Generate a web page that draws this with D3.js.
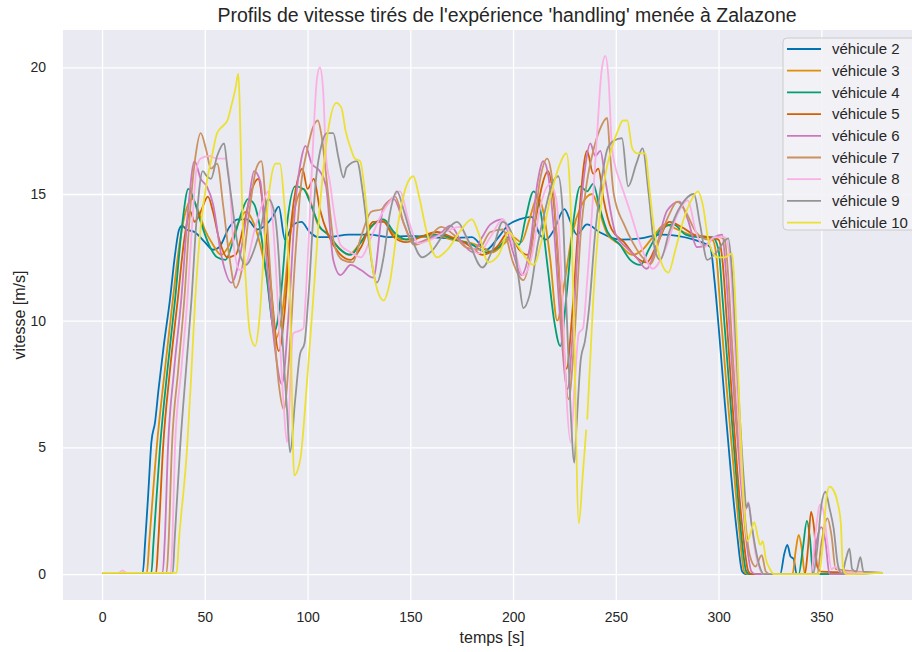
<!doctype html>
<html lang="fr">
<head>
    <meta charset="utf-8">
    <title>Profils de vitesse</title>
    <script src="https://d3js.org/d3.v7.min.js"></script>
    <style>
        body { margin: 0; background: #fff; }
        svg text { font-family: "Liberation Sans", Arial, sans-serif; fill: #262626; }
    </style>
</head>
<body>
<div id="chart"></div>
<script>
    // Tick values
    var xTicks = [0, 50, 100, 150, 200, 250, 300, 350];
    var yTicks = [0, 5, 10, 15, 20];

    // Series names
    var names = ["véhicule 2", "véhicule 3", "véhicule 4", "véhicule 5", "véhicule 6",
                 "véhicule 7", "véhicule 8", "véhicule 9", "véhicule 10"];

    // [temps, vitesse]
    var v2 = [[0,0.05],[19.8,0.05],[21,1.3],[22.5,3.2],[24,5.2],[25.8,6.0],[27.5,7.3],[30,9.0],[33,10.8],[35.5,12.6],[37.5,13.6],[39,13.75],[41,13.6],[45,13.5],[50,13.1],[54,12.8],[57,12.9],[62,13.7],[66,14.0],[70.6,14.0],[75.5,13.6],[80,13.8],[83,14.1],[86,14.5],[89,13.2],[93,13.8],[97,13.9],[101,13.5],[105,13.3],[110,13.3],[120,13.4],[130,13.4],[140,13.3],[150,13.35],[160,13.3],[170,13.25],[180,13.3],[187,12.8],[192,13.2],[198,13.8],[203,14.0],[209,14.1],[213,13.4],[216,13.2],[220,13.6],[225,14.4],[228,13.9],[231,13.4],[236,13.8],[242,13.5],[252,13.2],[262,13.25],[272,13.4],[280,13.35],[288,13.2],[293,13.05],[296,12.9],[298,11.6],[300,9.8],[303,6.8],[306,4.0],[309,1.6],[311.5,0.1],[313,0],[330,0],[332,0.8],[333.5,1.15],[335,0.7],[336.5,0.6],[338,0],[380,0.05]];
    var v3 = [[0,0.05],[21.8,0.05],[23,1.3],[26.6,5.0],[30.5,8.0],[34.4,10.8],[38,13.2],[41,14.4],[44,14.8],[47,14.3],[50,13.6],[54,13.0],[58,12.6],[62,13.0],[66,13.8],[70,14.3],[73,14.0],[76,13.3],[80,11.8],[84.5,9.3],[88,10.5],[91,13.0],[94,14.5],[98,15.2],[101,14.8],[105,13.8],[110,13.4],[115,12.9],[120,12.6],[125,13.0],[131,13.7],[136,14.0],[141,13.5],[146,13.2],[155,13.3],[162,13.4],[170,13.2],[178,13.1],[185,12.9],[190,12.7],[195,13.0],[200,13.3],[204,13.1],[208,14.0],[212,14.9],[215,14.2],[218,12.5],[221.5,10.0],[225,11.5],[229,13.5],[233,14.5],[238.5,15.0],[242,14.3],[246,13.4],[252,13.0],[258,12.6],[263,12.8],[268,13.3],[274,13.8],[280,13.6],[286,13.4],[292,13.3],[297,13.2],[299,12.5],[301,10.3],[304,7.3],[307,4.5],[310,1.8],[312.5,0.1],[314,0],[336,0],[337.5,0.9],[339,1.55],[340.5,1.0],[342,0],[380,0.05]];
    var v4 = [[0,0.05],[24,0.05],[25,1.2],[28.2,5.0],[32,8.2],[35.5,10.8],[39,13.8],[42,15.2],[45,14.7],[48,13.9],[52,13.0],[56,12.5],[60,12.4],[64,13.2],[68,14.3],[71,14.8],[74,14.6],[77,13.6],[80,11.8],[84,9.6],[87,11.0],[90,13.8],[94,15.3],[98,15.2],[102,14.5],[106,13.7],[110,13.4],[116,12.8],[121,12.6],[126,13.1],[132,13.8],[137,14.0],[142,13.5],[148,13.2],[156,13.35],[164,13.4],[172,13.2],[180,13.0],[187,12.7],[193,12.9],[198,13.3],[203,13.0],[206,14.0],[210,15.1],[213,14.5],[217,12.0],[220,10.0],[223,9.0],[226,11.0],[229.5,14.0],[232.7,15.3],[236,15.1],[239,15.4],[242,14.5],[246,13.5],[252,13.0],[257,12.4],[262,12.2],[266,12.8],[272,13.6],[278,13.8],[284,13.4],[290,13.3],[297,13.3],[300,12.8],[302,10.8],[305,7.6],[308,4.5],[311,1.6],[313.5,0.1],[315,0],[339,0],[341,1.0],[343,2.1],[344.5,1.4],[346,0],[380,0.05]];
    var v5 = [[0,0.05],[26.3,0.05],[27.3,1.2],[29.7,5.0],[33,8.0],[36.8,10.8],[40,13.2],[43,14.3],[45,13.9],[48,14.3],[51.5,14.9],[54,14.3],[57,13.2],[61,12.5],[65,12.6],[69,13.8],[73,15.2],[76,15.6],[79,14.0],[82,11.5],[86,8.8],[89,10.5],[92,13.8],[95,15.5],[97.5,16.0],[100,15.2],[103,15.6],[106,14.4],[110,13.4],[115,12.7],[121,12.4],[126,12.9],[132,13.9],[137,13.9],[142,13.3],[148,13.1],[155,13.3],[163,13.5],[170,13.3],[178,13.0],[185,12.6],[192,12.9],[198,13.5],[203,12.8],[207,12.6],[211,14.0],[214,15.3],[217,15.9],[220,14.5],[223,11.0],[226,8.1],[229,10.5],[232,14.0],[236,16.7],[239,15.8],[241.5,16.0],[244,14.8],[248,13.6],[254,13.1],[260,12.5],[265,12.3],[270,13.0],[276,13.9],[282,13.7],[288,13.4],[295,13.3],[300,13.2],[302,12.3],[304,10.0],[306.5,7.0],[309,4.2],[312,1.5],[314.5,0.1],[316,0],[342,0],[343.5,1.0],[345,2.45],[346.5,1.8],[348,0.3],[350,0.1],[380,0.05]];
    var v6 = [[0,0.05],[29.5,0.05],[30.5,1.3],[32.1,5.0],[35,8.0],[38.5,10.8],[42,14.5],[45,16.3],[48,15.6],[51,15.3],[54,14.6],[58,12.6],[63,11.5],[67,12.5],[71,14.5],[74,15.9],[77,15.5],[80,12.5],[84,9.0],[87.5,7.5],[91,10.5],[94,14.5],[97,16.4],[99,16.9],[102,16.2],[106,15.9],[109,15.3],[112.5,12.4],[116,11.8],[121,12.2],[126,12.0],[132,11.7],[137,14.5],[142,14.8],[147,13.8],[151.5,13.05],[158,13.2],[164,13.4],[169.5,13.75],[175,13.1],[180.6,12.7],[185,13.3],[189,13.8],[195,14.0],[200,12.7],[204,11.8],[208,12.8],[212,15.5],[214.7,16.3],[217,15.8],[220,13.5],[223,10.0],[226.5,7.3],[229,9.5],[232,13.5],[235,16.0],[237.6,17.0],[240,16.5],[242.5,16.7],[245,15.5],[250,13.4],[255,12.9],[260,12.5],[265,12.05],[270,13.0],[275,14.35],[281,14.7],[285,14.0],[289.6,12.9],[294,13.0],[298,13.3],[301.8,13.4],[303.5,12.0],[305.5,9.5],[308,6.5],[311,3.5],[314,1.0],[316,0.1],[318,0],[345,0],[347,1.0],[350,1.85],[352,1.3],[354,0],[380,0.05]];
    var v7 = [[0,0.05],[31.4,0.05],[32.4,1.3],[34,5.0],[37,8.0],[40,10.8],[43,14.5],[45.5,16.5],[48,17.4],[50.5,16.8],[53,16.0],[56,16.2],[59,14.5],[62,12.5],[65,11.3],[68,12.0],[72,14.5],[75,16.0],[77.5,16.3],[80,14.2],[83,10.5],[86,7.5],[88.5,6.5],[91,8.5],[94,12.5],[97,15.5],[100,16.8],[102.5,17.6],[105,17.9],[107,17.2],[110,15.0],[113,13.0],[117,12.4],[122,12.3],[126,13.3],[131,14.3],[136,14.4],[142.6,14.9],[147,13.8],[152,13.0],[158,13.2],[165,13.7],[171,13.4],[177,12.9],[183,12.8],[189,13.5],[195,13.6],[200,12.3],[205,11.6],[209,12.8],[213,15.5],[216.6,16.4],[219,15.6],[222,12.5],[224.5,9.0],[227,6.9],[230,9.5],[233,13.5],[236,15.5],[239,16.7],[242,17.5],[245.8,18.0],[247,16.8],[249,15.0],[254,13.8],[258.5,13.05],[263,12.5],[266.8,12.25],[272,13.4],[276,14.2],[280,14.7],[284,14.3],[289,13.5],[295,13.2],[300,13.3],[303,13.2],[304.5,12.0],[306.5,9.2],[309,6.0],[312,3.0],[315,0.8],[318,0.3],[321,0.75],[323,0.1],[325,0],[348,0],[350,1.2],[353,2.2],[355,1.5],[357,0.2],[380,0.05]];
    var v8 = [[0,0.05],[8,0.05],[10,0.15],[12,0.05],[33.4,0.05],[34.3,1.5],[35.5,5.0],[38.5,8.0],[41.5,10.8],[44,14.0],[46,16.0],[48,16.4],[52,16.5],[56,16.4],[60,16.4],[62,15.5],[64,13.0],[67,12.0],[70,12.2],[74,13.5],[78,14.6],[81,15.1],[83,14.0],[86,10.0],[88.5,6.5],[90,5.2],[93,9.5],[96,9.6],[98,9.7],[99,10.8],[101,14.0],[103,17.5],[104.5,19.5],[106,20.0],[107.5,19.2],[109,16.5],[111,15.4],[113,14.2],[116,13.0],[121,12.7],[126,12.5],[131,13.3],[136,14.2],[141,14.8],[145,15.1],[149,14.0],[154,13.05],[160,13.2],[167,13.5],[174,13.7],[179,13.0],[183,12.65],[189,13.3],[195,14.0],[200,13.0],[205,11.8],[209,12.5],[213,14.4],[218,15.4],[221,14.8],[224,11.0],[226,7.0],[228,5.2],[230,7.5],[232,9.5],[234,9.7],[236,11.5],[239,15.0],[241,17.5],[243,19.8],[244.9,20.45],[246.5,19.5],[248,17.0],[250,16.0],[252,15.5],[257,14.3],[262,13.0],[268,12.05],[274,12.8],[280,14.2],[285,14.75],[289,13.5],[293,12.9],[298,13.3],[303,13.3],[305.5,12.5],[307.5,9.5],[309.5,6.5],[311.5,3.5],[313,2.5],[314.5,2.85],[316,2.0],[318,0.8],[320,0.2],[322,0],[345,0],[347,1.5],[349.5,2.75],[351,2.5],[353,1.2],[355,0.2],[357,0.3],[359,0.1],[380,0.05]];
    var v9 = [[0,0.05],[34.4,0.05],[35.3,1.3],[38,5.0],[41,8.2],[43.5,10.8],[46,14.0],[49,15.9],[51,15.7],[53,15.6],[56,16.5],[59.4,17.0],[61,16.0],[63,14.8],[66,13.0],[70,12.2],[74,12.8],[77,13.6],[81,14.8],[84,14.2],[86,12.5],[88,9.0],[90,6.5],[91.5,4.8],[94,6.9],[96.4,8.7],[98.5,9.1],[100.3,10.8],[104,15.5],[107,17.0],[109.5,17.4],[112.5,17.4],[115,16.45],[117.5,15.65],[119,16.05],[124,16.3],[127,15.0],[130,13.0],[133.7,11.5],[137,12.5],[140,14.2],[143.5,15.1],[147,14.3],[151,13.2],[155.8,12.5],[161,12.8],[167,13.5],[172.8,13.9],[178,13.2],[185,12.1],[190,12.8],[195,13.9],[200,13.3],[203,11.5],[205,10.5],[208,11.0],[212,13.0],[216,14.5],[219,15.4],[222,15.7],[224,14.5],[226,10.5],[228,6.5],[229.8,4.4],[231,6.0],[233,8.5],[235,9.2],[237,10.5],[240,13.5],[243,15.5],[246,16.8],[249,17.1],[253,17.2],[256,15.3],[260,16.2],[263,16.8],[266,15.0],[269,12.8],[271.6,12.4],[276,13.5],[280,14.3],[284,14.8],[288,15.0],[291,13.8],[294.5,12.4],[299,12.7],[304.7,13.25],[306.5,12.0],[308.5,9.0],[310.5,6.0],[312.5,3.5],[313.5,2.6],[314.5,2.8],[316,2.0],[318,1.0],[320,0.3],[322,0],[346,0],[348,1.0],[350,2.7],[352,3.25],[354,2.6],[356,1.8],[358,0.4],[360,0],[362,0.6],[363.7,1.0],[365,0.2],[367,0.1],[369,0.67],[370.5,0.1],[380,0.05]];
    var v10 = [[0,0.05],[36.3,0.05],[37.3,1.2],[41.4,5.0],[43.5,8.0],[45.3,10.8],[48,13.7],[51,15.5],[53,16.3],[56,17.4],[59,17.7],[61,17.9],[63,18.5],[65,19.2],[66.3,19.75],[67,18.5],[68,15.0],[70,11.5],[72,9.5],[74.5,9.0],[76.5,10.0],[79,13.0],[82,15.5],[84.5,16.2],[86.6,16.2],[88.5,14.8],[91.5,10.8],[93.5,3.9],[96.4,4.5],[100.3,8.2],[102.7,10.8],[106,14.5],[110,17.5],[114,18.6],[116.5,18.4],[118.5,17.5],[121,16.8],[123,16.4],[125.6,16.3],[128,15.0],[131,12.5],[134,11.2],[137,10.8],[140,11.5],[144,13.8],[148,15.3],[151.5,15.7],[154,15.0],[158,13.5],[163,12.5],[168,12.8],[174,13.5],[180,14.0],[183,13.5],[188,12.3],[193,12.6],[198,13.5],[202,13.0],[206,12.5],[210,12.2],[214,13.2],[218,14.8],[222,16.0],[226,16.6],[227.5,15.5],[229.4,10.8],[232,2.0],[234,4.0],[235.6,5.7],null,[236.1,6.1],[239,10.8],[242,14.0],[245,15.8],[248,16.8],[251,17.5],[253.5,17.9],[255.6,17.9],[258,16.8],[260.5,16.6],[264.4,16.6],[266,15.5],[268,14.0],[271,12.6],[275.6,11.9],[279,12.8],[283,14.0],[287,14.8],[290,15.1],[292.5,14.5],[295,13.2],[299.5,12.5],[303,12.5],[306.6,12.65],[308,11.0],[309.5,8.0],[311,5.0],[312.5,2.5],[314,1.3],[315.5,1.6],[317.4,2.05],[319,1.5],[320.3,1.15],[321.5,1.3],[323,0.6],[325,0.2],[327,0],[349,0],[351,1.5],[352.5,3.0],[354,3.45],[356,3.3],[358,2.8],[359.5,2.0],[360.5,0.3],[362,0],[380,0.05]];

    var series = [v2, v3, v4, v5, v6, v7, v8, v9, v10];
    var colors = ["#0173B2", "#DE8F05", "#029E73", "#D55E00", "#CC78BC",
                  "#CA9161", "#FBAFE4", "#949494", "#ECE133"];

    // Graph size (plot box runs past the right edge, as in the cropped picture)
    var width  = 912;
    var height = 652;
    var plotL = 63, plotT = 30, plotR = 922, plotB = 600;

    var svg = d3.select("#chart")
        .append("svg")
        .attr("width", width)
        .attr("height", height);

    // Scales (5% margins like matplotlib)
    var x = d3.scaleLinear().domain([-19, 399]).range([plotL, plotR]);
    var y = d3.scaleLinear().domain([-1.0225, 21.4725]).range([plotB, plotT]);

    // Plot background
    svg.append("rect")
        .attr("x", plotL).attr("y", plotT)
        .attr("width", plotR - plotL).attr("height", plotB - plotT)
        .attr("fill", "#EAEAF2");

    // Grid lines
    svg.append("g")
        .attr("transform", "translate(0," + plotB + ")")
        .call(d3.axisBottom(x).tickValues(xTicks).tickSize(-(plotB - plotT)).tickFormat(""))
        .call(function(g) { g.select(".domain").remove(); })
        .selectAll("line").attr("stroke", "#fff").attr("stroke-width", 1.3);

    svg.append("g")
        .attr("transform", "translate(" + plotL + ",0)")
        .call(d3.axisLeft(y).tickValues(yTicks).tickSize(-(plotR - plotL)).tickFormat(""))
        .call(function(g) { g.select(".domain").remove(); })
        .selectAll("line").attr("stroke", "#fff").attr("stroke-width", 1.3);

    // Tick labels
    var xAxis = svg.append("g")
        .attr("transform", "translate(0," + plotB + ")")
        .call(d3.axisBottom(x).tickValues(xTicks).tickSize(0).tickPadding(12));
    xAxis.select(".domain").remove();
    xAxis.selectAll("text").style("font-size", "14px").attr("fill", "#262626");

    var yAxis = svg.append("g")
        .attr("transform", "translate(" + plotL + ",0)")
        .call(d3.axisLeft(y).tickValues(yTicks).tickSize(0).tickPadding(17));
    yAxis.select(".domain").remove();
    yAxis.selectAll("text").style("font-size", "14px").attr("fill", "#262626");

    // Lines
    svg.append("clipPath").attr("id", "plotclip")
        .append("rect")
        .attr("x", plotL).attr("y", plotT)
        .attr("width", plotR - plotL).attr("height", plotB - plotT);

    var line = d3.line()
        .defined(function(d) { return d !== null; })
        .x(function(d) { return x(d[0]); })
        .y(function(d) { return y(d[1]); })
        .curve(d3.curveMonotoneX);

    svg.append("g")
        .attr("clip-path", "url(#plotclip)")
        .selectAll("path")
        .data(series)
        .enter()
        .append("path")
        .attr("d", line)
        .attr("fill", "none")
        .attr("stroke", function(d, i) { return colors[i]; })
        .attr("stroke-width", 1.8)
        .attr("stroke-linejoin", "round");

    // Title and axis labels
    svg.append("text")
        .attr("x", 507).attr("y", 22)
        .attr("text-anchor", "middle")
        .style("font-size", "19.5px")
        .text("Profils de vitesse tirés de l'expérience 'handling' menée à Zalazone");

    svg.append("text")
        .attr("x", 492).attr("y", 643)
        .attr("text-anchor", "middle")
        .style("font-size", "16px")
        .text("temps [s]");

    svg.append("text")
        .attr("transform", "translate(25,315) rotate(-90)")
        .attr("text-anchor", "middle")
        .style("font-size", "16px")
        .text("vitesse [m/s]");

    // Legend
    var legend = svg.append("g").attr("transform", "translate(783,38)");
    legend.append("rect")
        .attr("width", 140).attr("height", 192)
        .attr("rx", 4)
        .attr("fill", "#F2F2F7").attr("fill-opacity", 0.85)
        .attr("stroke", "#cccccc").attr("stroke-width", 1);

    var item = legend.selectAll("g.item")
        .data(names)
        .enter()
        .append("g")
        .attr("class", "item")
        .attr("transform", function(d, i) { return "translate(0," + (11 + i * 21.7) + ")"; });

    item.append("line")
        .attr("x1", 4).attr("x2", 38)
        .attr("stroke", function(d, i) { return colors[i]; })
        .attr("stroke-width", 1.8);

    item.append("text")
        .attr("x", 49).attr("dy", "0.35em")
        .style("font-size", "15px")
        .text(function(d) { return d; });
</script>
</body>
</html>
